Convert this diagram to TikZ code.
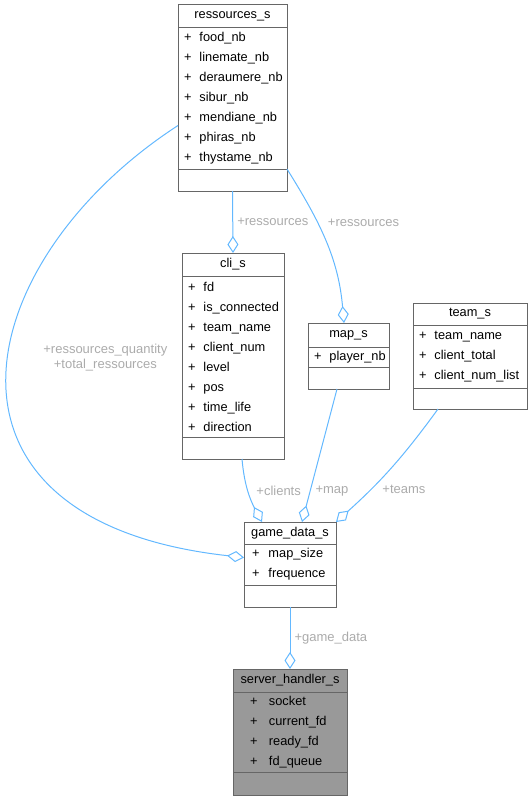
\documentclass[tikz,border=0pt]{standalone}
\usepackage{fontspec}
\setmainfont{Liberation Sans}
\usepackage{tikz}
\usetikzlibrary{arrows.meta,positioning,calc}
\definecolor{edgecol}{HTML}{63B8FF}
\definecolor{boxcol}{HTML}{666666}
\definecolor{lblcol}{HTML}{ABABAB}
\definecolor{curcol}{HTML}{999999}
\newcommand{\cfont}{\fontsize{12.8}{20}\selectfont}
\newcommand{\lfont}{\fontsize{13}{15}\selectfont}
\newcommand{\mem}[2][8pt]{\mbox{+\hspace{#1}#2}}

\begin{document}
\begin{tikzpicture}[x=1pt,y=1pt,
  ctitle/.style={draw=boxcol,line width=1pt,fill=white,outer sep=0pt,inner sep=0pt,minimum height=23pt,anchor=north west,font=\cfont},
  cattr/.style={draw=boxcol,line width=1pt,fill=white,outer sep=0pt,inner xsep=6pt,inner ysep=0pt,align=left,font=\cfont},
  cempty/.style={draw=boxcol,line width=1pt,fill=white,outer sep=0pt,inner sep=0pt,minimum height=22pt},
  lbl/.style={font=\lfont,text=lblcol,inner sep=2pt,align=center},
  agg/.style={draw=edgecol,line width=1pt,-{Diamond[open,length=17pt,width=11pt]}}]
  \useasboundingbox (0,0) rectangle (532,-800);
  % ressources_s
  \node[ctitle,minimum width=109pt] (res) at (178,-5) {ressources\_s};
  \node[cattr,text width=97pt,minimum height=141pt,below=0pt of res] (res-a)
    {\mem{food\_nb}\\\mem{linemate\_nb}\\\mem{deraumere\_nb}\\\mem{sibur\_nb}\\\mem{mendiane\_nb}\\\mem{phiras\_nb}\\\mem{thystame\_nb}};
  \node[cempty,minimum width=109pt,below=0pt of res-a] (res-m) {};
  % cli_s
  \node[ctitle,minimum width=102pt] (cli) at (182,-253) {cli\_s};
  \node[cattr,text width=90pt,minimum height=161pt,below=0pt of cli] (cli-a)
    {\mem{fd}\\\mem{is\_connected}\\\mem{team\_name}\\\mem{client\_num}\\\mem{level}\\\mem{pos}\\\mem{time\_life}\\\mem{direction}};
  \node[cempty,minimum width=102pt,below=0pt of cli-a] (cli-m) {};
  % map_s
  \node[ctitle,minimum width=81pt,minimum height=24pt] (map) at (308,-323) {map\_s};
  \node[cattr,text width=69pt,minimum height=20pt,below=0pt of map] (map-a) {\mem{player\_nb}};
  \node[cempty,minimum width=81pt,below=0pt of map-a] (map-m) {};
  % team_s
  \node[ctitle,minimum width=114pt,minimum height=22pt] (team) at (413,-303) {team\_s};
  \node[cattr,text width=102pt,minimum height=63pt,below=0pt of team] (team-a)
    {\mem{team\_name}\\\mem{client\_total}\\\mem{client\_num\_list}};
  \node[cempty,minimum width=114pt,minimum height=21pt,below=0pt of team-a] (team-m) {};
  % game_data_s
  \node[ctitle,minimum width=92pt,minimum height=22pt] (game) at (244,-522) {game\_data\_s};
  \node[cattr,inner xsep=8pt,text width=76pt,minimum height=41pt,below=0pt of game] (game-a)
    {\mem[9pt]{map\_size}\\\mem[9pt]{frequence}};
  \node[cempty,minimum width=92pt,below=0pt of game-a] (game-m) {};
  % server_handler_s
  \node[ctitle,fill=curcol,minimum width=114pt] (server) at (233,-669) {server\_handler\_s};
  \node[cattr,fill=curcol,inner xsep=17pt,text width=80pt,minimum height=80pt,below=0pt of server] (server-a)
    {\mem[11.5pt]{socket}\\\mem[11.5pt]{current\_fd}\\\mem[11.5pt]{ready\_fd}\\\mem[11.5pt]{fd\_queue}};
  \node[cempty,fill=curcol,minimum width=114pt,minimum height=23pt,below=0pt of server-a] (server-m) {};
  % aggregations
  \draw[agg] (res-m.south) -- node[lbl,right=2pt] {+ressources} (cli.north);
  \draw[agg] (res-a.south east) to[out=-58,in=95] node[lbl,pos=0.36,right=8pt] {+ressources} ([xshift=-4.5pt]map.north);
  \draw[agg] ([yshift=-27pt]res-a.west) .. controls +(-208,-135) and +(-334,37) .. ([yshift=7pt]game-a.west)
    node[lbl,pos=0.46,right=32pt] {+ressources\_quantity\\+total\_ressources};
  \draw[agg] ([xshift=9pt]cli-m.south) to[out=-85,in=118] node[lbl,pos=0.48,right=6pt] {+clients} ([xshift=-28pt]game.north);
  \draw[agg] ([xshift=-11.5pt]map-m.south) -- node[lbl,pos=0.77,right=3pt] {+map} ([xshift=12pt]game.north);
  \draw[agg] ([xshift=-32pt]team-m.south) to[out=-126,in=42] node[lbl,pos=0.7,right=9pt] {+teams} (game.north east);
  \draw[agg] (game-m.south) -- node[lbl,right=2pt] {+game\_data} (server.north);
\end{tikzpicture}
\end{document}
